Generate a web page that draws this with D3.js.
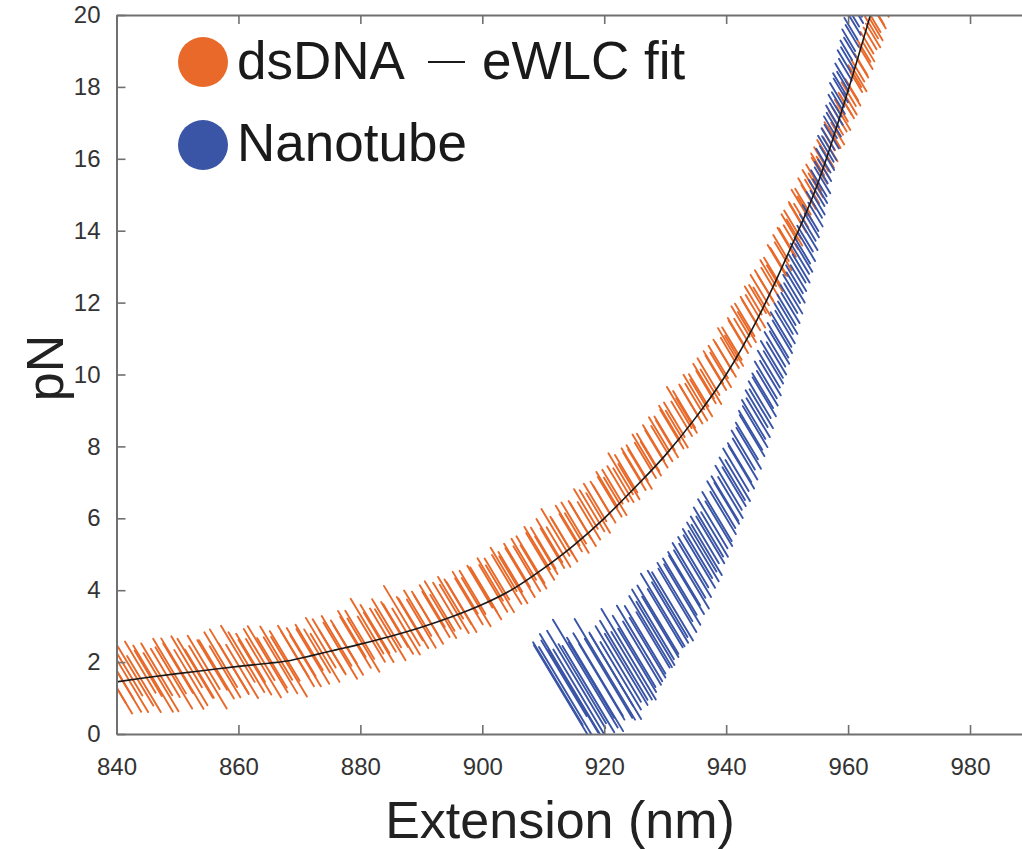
<!DOCTYPE html>
<html lang="en">
<head>
  <meta charset="utf-8"/>
  <title>dsDNA vs Nanotube force-extension</title>
  <script src="https://d3js.org/d3.v7.min.js"></script>
  <style>
    body { margin: 0; background: #fff; }
    svg text { font-family: "Liberation Sans", Arial, sans-serif; }
  </style>
</head>
<body>
<svg id="chart" width="1022" height="849"></svg>
<script>
  // axis ticks
  const xTicks = [840, 860, 880, 900, 920, 940, 960, 980];
  const yTicks = [0, 2, 4, 6, 8, 10, 12, 14, 16, 18, 20];

  // each row = one trap step: [extension nm, mean force pN, half force range pN]
  const dsdna = [
    [839.0,1.58,0.71],[839.7,1.38,0.81],[840.4,1.66,0.67],[841.0,1.48,0.86],[841.8,1.76,0.69],[842.5,1.37,0.76],[843.1,1.62,0.83],[843.9,1.86,0.71],[844.5,1.39,0.78],[845.2,1.69,0.63],
    [846.0,1.54,0.92],[846.6,1.80,0.72],[847.3,1.44,0.81],[848.0,1.70,0.67],[848.7,1.89,0.76],[849.4,1.56,0.85],[850.1,1.83,0.69],[850.8,1.68,0.98],[851.5,2.01,0.71],[852.2,1.57,0.77],
    [852.9,1.83,0.82],[853.6,1.68,0.67],[854.3,1.99,0.74],[855.0,1.58,0.87],[855.7,1.92,0.69],[856.4,1.80,0.81],[857.1,2.07,0.76],[857.8,1.73,0.71],[858.5,2.01,0.90],[859.2,1.83,0.69],
    [859.9,2.23,0.78],[860.6,1.74,0.74],[861.3,2.00,0.83],[862.0,2.12,0.67],[862.7,1.86,0.76],[863.4,2.21,0.71],[864.1,1.83,0.81],[864.8,2.08,0.92],[865.5,1.98,0.69],[866.2,2.25,0.74],
    [866.9,1.91,0.78],[867.6,2.17,0.69],[868.3,1.87,0.83],[869.0,2.30,0.71],[869.7,2.09,0.76],
    [870.3,2.28,0.67],[871.0,2.04,0.71],[871.6,2.41,0.63],[872.2,2.16,0.76],[872.9,2.31,0.60],[873.5,2.54,0.69],[874.2,2.12,0.67],[874.8,2.45,0.74],[875.4,2.28,0.62],[876.1,2.59,0.69],
    [876.7,2.32,0.78],[877.3,2.56,0.60],[878.0,2.34,0.69],[878.6,2.78,0.64],[879.2,2.55,0.71],[879.9,2.76,0.67],[880.5,2.47,0.74],[881.1,3.00,0.76],[881.8,2.64,0.63],[882.4,2.92,0.67],
    [883.0,2.69,0.69],[883.7,2.89,0.60],[884.3,3.08,0.67],[884.9,2.76,0.71],[885.6,3.05,0.62],[886.2,2.92,0.69],[886.8,3.29,0.83],[887.5,2.85,0.64],[888.1,3.21,0.60],[888.7,3.08,0.69],
    [889.4,3.36,0.63],[890.0,3.07,0.67],
    [890.6,3.36,0.60],[891.2,3.18,0.67],[891.8,3.56,0.58],[892.4,3.33,0.63],[893.0,3.56,0.69],[893.6,3.27,0.60],[894.2,3.57,0.64],[894.8,3.79,0.58],[895.4,3.48,0.67],[896.0,3.68,0.62],
    [896.6,3.53,0.69],[897.2,3.93,0.58],[897.8,3.69,0.64],[898.4,3.94,0.60],[899.0,3.67,0.67],[899.6,4.10,0.58],
    [900.2,4.02,0.62],[900.7,3.87,0.68],[901.3,4.30,0.59],[901.8,4.05,0.65],[902.4,4.31,0.57],[902.9,4.04,0.65],[903.5,4.58,0.60],[904.0,4.30,0.68],[904.6,4.51,0.55],[905.1,4.29,0.65],
    [905.7,4.69,0.60],[906.2,4.49,0.68],[906.8,4.86,0.57],[907.3,4.60,0.62],[907.9,4.85,0.65],[908.4,4.65,0.60],[909.0,5.17,0.59],[909.5,4.94,0.65],
    [910.0,5.17,0.57],[910.5,4.97,0.52],[911.0,5.38,0.60],[911.5,5.17,0.55],[912.0,5.61,0.65],[912.5,5.20,0.55],[913.0,5.52,0.52],[913.5,5.39,0.59],[914.0,5.80,0.55],[914.5,5.60,0.52],
    [915.0,5.87,0.57],[915.5,5.59,0.55],[916.0,5.96,0.52],[916.5,5.83,0.60],[917.0,6.26,0.55],[917.5,5.93,0.52],[918.0,6.21,0.57],[918.5,6.44,0.52],[919.0,6.15,0.55],[919.5,6.53,0.49],
    [920.0,6.40,0.52],[920.45,6.80,0.49],[920.9,6.60,0.55],[921.35,6.88,0.47],[921.8,6.61,0.52],[922.25,6.96,0.49],[922.7,7.24,0.57],[923.15,6.92,0.47],[923.6,7.24,0.52],[924.05,7.02,0.49],
    [924.5,7.48,0.47],[924.95,7.31,0.52],[925.4,7.54,0.49],[925.85,7.37,0.55],[926.3,7.86,0.47],[926.75,7.61,0.49],[927.2,7.83,0.52],[927.65,7.66,0.47],[928.1,8.10,0.49],[928.55,7.93,0.52],
    [929.0,8.34,0.47],[929.45,8.08,0.49],[929.9,8.36,0.47],
    [930.3,8.21,0.51],[930.7,8.65,0.48],[931.1,8.48,0.54],[931.5,8.74,0.48],[931.9,8.48,0.51],[932.3,9.08,0.57],[932.7,8.77,0.48],[933.1,9.03,0.51],[933.5,8.86,0.48],[933.9,9.27,0.45],
    [934.3,9.15,0.51],[934.7,9.51,0.48],[935.1,9.23,0.51],[935.5,9.56,0.45],[935.9,9.35,0.51],[936.3,9.82,0.48],[936.7,9.65,0.45],[937.1,9.94,0.51],[937.5,9.66,0.48],[937.9,10.20,0.45],
    [938.3,10.05,0.48],[938.7,10.35,0.45],[939.1,10.13,0.48],[939.5,10.52,0.45],[939.9,10.42,0.48],
    [940.25,10.84,0.45],[940.6,10.60,0.42],[940.95,10.86,0.45],[941.3,10.66,0.42],[941.65,11.18,0.39],[942.0,11.05,0.45],[942.35,11.48,0.42],[942.7,11.16,0.39],[943.05,11.52,0.45],[943.4,11.32,0.42],
    [943.75,11.77,0.39],[944.1,11.65,0.42],[944.45,12.06,0.39],[944.8,11.76,0.45],[945.15,12.10,0.39],[945.5,12.35,0.42],[945.85,12.03,0.39],[946.2,12.48,0.42],[946.55,12.37,0.39],[946.9,12.82,0.36],
    [947.25,12.55,0.42],[947.6,12.86,0.39],[947.95,12.68,0.36],[948.3,13.18,0.42],[948.65,13.13,0.39],[949.0,13.52,0.36],[949.35,13.29,0.39],[949.7,13.72,0.36],
    [950.05,13.67,0.39],[950.35,14.10,0.36],[950.6,13.82,0.33],[950.9,14.17,0.39],[951.2,13.95,0.36],[951.45,14.47,0.33],[951.75,14.35,0.39],[952.0,14.78,0.36],[952.3,14.42,0.33],[952.6,14.81,0.36],
    [952.9,14.62,0.33],[953.2,15.07,0.39],[953.5,14.94,0.33],[953.8,15.33,0.36],[954.1,15.09,0.33],[954.4,15.48,0.36],[954.7,15.26,0.33],[955.0,15.85,0.30],[955.3,15.67,0.36],[955.6,15.99,0.33],
    [955.9,15.76,0.30],[956.2,16.16,0.36],[956.5,16.08,0.33],[956.8,16.54,0.30],[957.1,16.26,0.33],[957.4,16.66,0.36],[957.7,16.60,0.30],[958.0,17.00,0.33],[958.3,16.70,0.30],[958.6,17.09,0.33],
    [958.9,17.34,0.30],[959.2,17.13,0.33],[959.5,17.54,0.30],[959.8,17.46,0.33],
    [960.1,17.80,0.33],[960.35,17.53,0.30],[960.6,17.92,0.30],[960.85,17.81,0.33],[961.1,18.30,0.30],[961.35,18.13,0.27],[961.6,18.45,0.30],[961.85,18.21,0.33],[962.1,18.63,0.30],[962.35,18.53,0.27],
    [962.6,19.00,0.30],[962.85,18.83,0.33],[963.1,19.23,0.30],[963.35,18.98,0.27],[963.6,19.35,0.30],[963.85,19.65,0.30],[964.1,19.43,0.33],[964.35,19.80,0.27],[964.6,19.60,0.30],[964.85,20.03,0.30],
    [965.1,19.93,0.30],[965.35,20.36,0.27],[965.6,20.25,0.30],[965.85,20.54,0.30],[966.1,20.45,0.30]
  ];

  const nanotube = [
    [912.4,1.40,1.15],[912.9,1.22,1.25],[913.4,1.55,1.05],[913.9,1.12,1.30],[914.4,1.38,1.40],[914.9,1.20,1.15],[915.4,1.52,1.35],[915.9,1.15,1.20],[916.4,1.40,1.10],[916.9,1.68,1.50],
    [917.4,1.25,1.20],[917.9,1.50,1.05],[918.5,1.38,1.30],[919.0,1.65,1.15],[919.6,1.45,1.05],[920.1,1.80,1.40],[920.7,1.55,1.10],[921.2,1.78,1.00],[921.8,1.62,1.20],
    [922.3,1.95,1.05],[922.7,1.62,0.94],[923.2,2.05,1.10],[923.6,1.80,0.99],[924.0,2.22,1.26],[924.5,1.90,0.94],[924.9,2.30,0.99],[925.4,2.05,0.88],[925.8,2.52,1.05],[926.2,2.25,0.88],
    [926.7,2.62,0.94],[927.1,2.40,0.83],[927.6,2.85,0.99],[928.0,2.62,0.77],
    [928.0,3.05,0.97],[928.4,2.80,0.88],[928.8,3.18,0.95],[929.2,2.98,0.84],[929.6,3.45,1.01],[930.0,3.22,0.81],[930.4,3.62,0.92],[930.8,3.38,0.84],[931.2,3.55,0.95],[931.6,3.95,0.81],
    [932.0,3.72,0.88],[932.4,4.10,0.78],[932.8,3.88,0.84],[933.1,4.32,0.74],[933.5,4.15,0.81],[933.9,4.55,0.76],[934.3,4.30,0.81],
    [934.6,4.78,0.70],[934.9,4.55,0.74],[935.3,5.02,0.68],[935.6,4.80,0.73],[936.0,5.20,0.68],[936.3,4.95,0.70],[936.5,5.40,0.65],[936.8,5.12,0.70],[937.1,5.62,0.68],[937.4,5.40,0.65],
    [937.8,5.85,0.68],[938.1,5.55,0.62],[938.5,6.05,0.68],[938.8,5.85,0.62],[939.2,6.38,0.65],
    [939.5,6.15,0.59],[939.8,6.55,0.62],[940.1,6.42,0.57],[940.4,6.85,0.61],[940.7,6.58,0.57],[941.0,7.10,0.59],[941.3,6.88,0.54],[941.6,7.35,0.59],[941.9,7.05,0.57],[942.2,7.55,0.54],
    [942.5,7.42,0.59],[942.8,7.90,0.54],[943.1,7.65,0.57],[943.4,8.15,0.51],[943.7,7.95,0.57],[944.0,8.45,0.54],
    [944.25,8.30,0.57],[944.5,8.75,0.54],[944.75,8.55,0.57],[945.0,9.05,0.51],[945.25,8.80,0.54],[945.5,9.30,0.51],[945.75,9.05,0.54],[946.0,9.55,0.48],[946.25,9.38,0.54],[946.5,9.85,0.51],
    [946.75,9.62,0.48],[947.0,10.15,0.51],[947.25,9.90,0.48],[947.5,10.42,0.51],[947.75,10.20,0.45],[948.0,10.70,0.48],[948.25,10.45,0.45],[948.5,10.95,0.48],[948.75,10.75,0.45],[949.0,11.25,0.48],
    [949.22,11.05,0.45],[949.45,11.55,0.42],[949.67,11.32,0.45],[949.9,11.80,0.42],[950.1,11.58,0.45],[950.3,12.10,0.39],[950.55,11.85,0.42],[950.75,12.38,0.39],[951.0,12.12,0.42],[951.2,12.65,0.39],
    [951.4,12.42,0.42],[951.65,12.95,0.39],[951.85,12.68,0.36],[952.1,13.22,0.42],[952.3,12.95,0.39],[952.5,13.45,0.36],[952.75,13.25,0.39],[952.95,13.78,0.36],[953.2,13.55,0.39],[953.4,14.08,0.36],
    [953.6,13.85,0.39],[953.85,14.35,0.36],[954.05,14.15,0.33],
    [954.45,14.72,0.36],[954.65,14.45,0.33],[954.85,15.05,0.36],[955.0,14.78,0.33],[955.2,15.32,0.36],[955.4,15.10,0.33],[955.6,15.62,0.30],[955.8,15.40,0.36],[955.95,15.95,0.33],[956.15,15.68,0.30],
    [956.35,16.28,0.36],[956.55,16.02,0.33],[956.7,16.55,0.30],[956.9,16.30,0.33],[957.1,16.88,0.30],[957.3,16.62,0.33],[957.45,17.18,0.30],[957.65,16.95,0.33],[957.85,17.48,0.30],[958.05,17.25,0.30],
    [958.2,17.78,0.33],[958.4,17.55,0.30],[958.6,18.08,0.30],[958.8,17.90,0.33],[958.95,18.35,0.30],[959.15,18.15,0.27],[959.35,18.72,0.30],[959.55,18.48,0.30],[959.7,19.02,0.27],[959.9,18.80,0.30],
    [960.1,19.30,0.30],[960.3,19.10,0.27],[960.45,19.62,0.30],[960.65,19.42,0.30],[960.85,19.95,0.27],[961.0,19.75,0.30],[961.2,20.25,0.30],[961.4,20.08,0.30]
  ];

  // eWLC fit to the dsDNA trace
  const fitExt = [840, 845, 850, 855, 860, 865, 868, 872, 876, 880, 885, 890, 895, 900, 905, 910, 915, 920, 925, 930, 935, 940, 945, 950, 955, 960, 964];
  const fitForce = [1.45, 1.57, 1.68, 1.78, 1.88, 1.97, 2.03, 2.18, 2.34, 2.5, 2.72, 2.97, 3.26, 3.6, 4.03, 4.6, 5.25, 6.0, 6.85, 7.75, 8.8, 10.0, 11.5, 13.3, 15.3, 17.9, 20.2];

  const orange = "#e8692a";
  const blue = "#3a54a6";
  const axisColor = "#707070";
  const slant = 0.6; // px sideways per px down along a trap-noise streak

  const svg = d3.select("#chart");
  const x = d3.scaleLinear().domain([840, 990]).range([116.5, 1031]);
  const y = d3.scaleLinear().domain([0, 20]).range([734, 15]);

  svg.append("rect").attr("width", 1022).attr("height", 849).attr("fill", "#fff");

  svg.append("defs").append("clipPath").attr("id", "plot-clip")
    .append("rect")
    .attr("x", x(840)).attr("y", y(20))
    .attr("width", x(990) - x(840)).attr("height", y(0) - y(20));

  const plot = svg.append("g").attr("clip-path", "url(#plot-clip)");

  function streaks(rows, color) {
    plot.append("g")
      .attr("stroke", color)
      .attr("stroke-width", 1.9)
      .attr("stroke-linecap", "round")
      .selectAll("line")
      .data(rows)
      .join("line")
      .attr("x1", d => x(d[0]) - slant * (y(d[1] - d[2]) - y(d[1] + d[2])) / 2)
      .attr("y1", d => y(d[1] + d[2]))
      .attr("x2", d => x(d[0]) + slant * (y(d[1] - d[2]) - y(d[1] + d[2])) / 2)
      .attr("y2", d => y(d[1] - d[2]));
  }

  streaks(dsdna, orange);
  streaks(nanotube, blue);

  const fitLine = d3.line()
    .x((d, i) => x(fitExt[i]))
    .y((d, i) => y(fitForce[i]))
    .curve(d3.curveMonotoneX);

  plot.append("path")
    .attr("d", fitLine(fitExt))
    .attr("fill", "none")
    .attr("stroke", "#1a1a1a")
    .attr("stroke-width", 1.6);

  function styleAxis(g) {
    g.attr("font-size", 24).attr("font-family", "'Liberation Sans', Arial, sans-serif");
    g.select(".domain").attr("stroke", axisColor).attr("stroke-width", 2);
    g.selectAll(".tick line").attr("stroke", axisColor).attr("stroke-width", 1.6);
    g.selectAll(".tick text").attr("fill", "#333");
  }

  svg.append("g")
    .attr("transform", `translate(0,${y(0)})`)
    .call(d3.axisBottom(x).tickValues(xTicks).tickSizeInner(-9).tickSizeOuter(0).tickPadding(24))
    .call(styleAxis);

  svg.append("g")
    .attr("transform", `translate(0,${y(20)})`)
    .call(d3.axisTop(x).tickValues(xTicks).tickSizeInner(-9).tickSizeOuter(0).tickFormat(""))
    .call(styleAxis);

  svg.append("g")
    .attr("transform", `translate(${x(840)},0)`)
    .call(d3.axisLeft(y).tickValues(yTicks).tickSizeInner(-9).tickSizeOuter(0).tickPadding(16))
    .call(styleAxis);

  svg.append("g")
    .attr("transform", `translate(${x(990)},0)`)
    .call(d3.axisRight(y).tickValues(yTicks).tickSizeInner(-9).tickSizeOuter(0).tickFormat(""))
    .call(styleAxis);

  // axis titles
  svg.append("text")
    .attr("x", 560).attr("y", 838)
    .attr("text-anchor", "middle")
    .attr("font-size", 52)
    .attr("fill", "#222")
    .text("Extension (nm)");

  svg.append("text")
    .attr("transform", "translate(63,368) rotate(-90)")
    .attr("text-anchor", "middle")
    .attr("font-size", 52)
    .attr("fill", "#222")
    .text("pN");

  // legend
  const legend = svg.append("g");
  legend.append("circle").attr("cx", 203).attr("cy", 62).attr("r", 25).attr("fill", orange);
  legend.append("circle").attr("cx", 203).attr("cy", 145).attr("r", 25).attr("fill", blue);
  legend.append("text").attr("x", 237).attr("y", 79).attr("font-size", 53).attr("fill", "#1a1a1a").text("dsDNA");
  legend.append("text").attr("x", 237).attr("y", 161).attr("font-size", 53).attr("fill", "#1a1a1a").text("Nanotube");
  legend.append("line").attr("x1", 428).attr("x2", 465).attr("y1", 62).attr("y2", 62)
    .attr("stroke", "#1a1a1a").attr("stroke-width", 2);
  legend.append("text").attr("x", 482).attr("y", 79).attr("font-size", 53).attr("fill", "#1a1a1a").text("eWLC fit");
</script>
</body>
</html>
